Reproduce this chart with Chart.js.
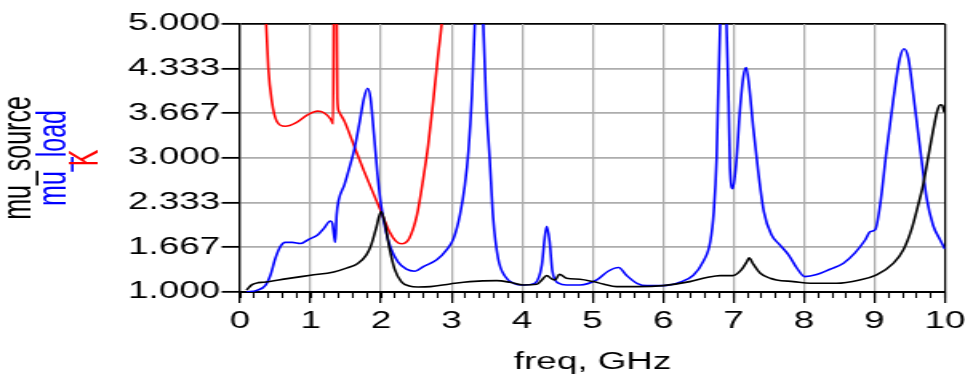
<!DOCTYPE html>
<html><head><meta charset="utf-8">
<script src="https://cdn.jsdelivr.net/npm/chart.js@4/dist/chart.umd.min.js"></script>
<style>html,body{margin:0;padding:0;background:#fff;overflow:hidden}</style>
</head><body>
<canvas id="c" width="603" height="376" style="width:965px;height:376px;display:block"></canvas>
<script>
// ---- data ----
const sourceFreq = [0.09,0.17,0.26,0.33,0.67,1.00,1.33,1.52,1.67,1.79,1.86,1.93,2.00,2.05,2.12,2.19,2.29,2.40,2.52,2.70,2.98,3.26,3.64,3.83,4.02,4.21,4.28,4.35,4.42,4.47,4.53,4.63,4.82,5.01,5.15,5.34,5.63,6.00,6.38,6.62,6.81,6.99,7.11,7.19,7.22,7.28,7.38,7.52,7.61,7.85,8.09,8.46,8.79,9.03,9.27,9.41,9.53,9.62,9.69,9.76,9.83,9.89,9.93,9.96,9.99];
const sourceValue = [1.03,1.11,1.14,1.145,1.20,1.25,1.30,1.36,1.425,1.55,1.70,1.95,2.20,2.05,1.65,1.35,1.15,1.09,1.075,1.08,1.12,1.155,1.17,1.145,1.105,1.115,1.18,1.245,1.195,1.18,1.265,1.205,1.19,1.155,1.12,1.08,1.08,1.095,1.155,1.215,1.245,1.245,1.33,1.455,1.51,1.415,1.28,1.205,1.18,1.155,1.13,1.13,1.18,1.255,1.43,1.63,1.95,2.30,2.60,3.00,3.40,3.70,3.795,3.79,3.68];

const loadFreq = [0.09,0.24,0.36,0.43,0.50,0.57,0.64,0.74,0.86,0.98,1.10,1.19,1.28,1.31,1.35,1.37,1.40,1.48,1.55,1.62,1.69,1.76,1.81,1.85,1.90,1.95,2.00,2.07,2.14,2.24,2.36,2.48,2.60,2.79,2.93,3.03,3.12,3.19,3.24,3.29,3.33,3.39,3.45,3.49,3.54,3.59,3.66,3.76,3.88,4.02,4.18,4.28,4.32,4.35,4.39,4.43,4.52,4.63,4.82,5.06,5.22,5.37,5.48,5.63,5.77,6.00,6.24,6.43,6.57,6.67,6.72,6.76,6.78,6.81,6.855,6.90,6.93,6.95,6.99,7.04,7.09,7.14,7.18,7.22,7.28,7.35,7.43,7.54,7.66,7.78,7.90,8.01,8.18,8.37,8.56,8.72,8.87,8.94,9.01,9.08,9.17,9.27,9.36,9.42,9.48,9.57,9.67,9.74,9.83,9.93,10.0];
const loadValue = [1.00,1.025,1.10,1.25,1.50,1.675,1.74,1.74,1.725,1.79,1.85,1.95,2.06,2.025,1.74,2.15,2.375,2.60,2.85,3.125,3.50,3.90,4.04,3.90,3.35,2.75,2.30,1.90,1.65,1.45,1.34,1.31,1.38,1.48,1.63,1.80,2.15,2.60,3.10,3.94,5.00,7.00,5.00,3.845,3.00,2.10,1.50,1.23,1.13,1.105,1.13,1.40,1.80,1.98,1.76,1.31,1.13,1.105,1.105,1.18,1.31,1.365,1.25,1.13,1.095,1.095,1.145,1.25,1.455,1.75,2.20,3.00,3.845,5.00,7.00,5.00,3.845,2.85,2.54,2.95,3.70,4.22,4.35,4.09,3.45,2.80,2.20,1.85,1.70,1.555,1.355,1.23,1.26,1.34,1.43,1.58,1.78,1.90,1.93,2.30,3.10,3.895,4.49,4.63,4.49,3.79,2.95,2.40,2.00,1.78,1.64];

const kFreq = [0.34,0.37,0.40,0.45,0.52,0.64,0.79,0.95,1.10,1.19,1.29,1.32,1.335,1.365,1.38,1.40,1.48,1.62,1.76,1.90,2.00,2.12,2.21,2.29,2.40,2.51,2.60,2.67,2.74,2.81,2.86,2.92];
const kValue = [6.00,5.00,4.35,3.85,3.55,3.475,3.525,3.64,3.70,3.675,3.575,3.51,6.00,6.00,3.90,3.70,3.55,3.175,2.80,2.45,2.20,1.90,1.76,1.72,1.80,2.15,2.70,3.20,3.845,4.54,5.00,5.80];

const yTicks = [1.000,1.667,2.333,3.000,3.667,4.333,5.000];
const xMajorTicks = [0,1,2,3,4,5,6,7,8,9,10];
const xMinorTicks = [0,0.2,0.4,0.6,0.8,1,1.2,1.4,1.6,1.8,2,2.2,2.4,2.6,2.8,3,3.2,3.4,3.6,3.8,4,4.2,4.4,4.6,4.8,5,5.2,5.4,5.6,5.8,6,6.2,6.4,6.6,6.8,7,7.2,7.4,7.6,7.8,8,8.2,8.4,8.6,8.8,9,9.2,9.4,9.6,9.8,10];
const xTitle = 'freq, GHz';
const yTitles = ['mu_source','mu_load','K'];
const seriesColors = ['#000000','#0000ff','#ff0000'];

// ---- chart ----
const FONT = "'Liberation Sans', Arial, sans-serif";
const GRID = '#adadad';
const pts = (xs, ys) => xs.map((x, i) => ({x: x, y: ys[i]}));
const fixW = w => (s => { s.width = w; s.paddingTop = 0; s.paddingBottom = 0; });
const titleAxis = (text, color, weight, w) => ({
  type: 'linear', position: 'left', weight: weight,
  grid: {display: false}, border: {display: false}, ticks: {display: false},
  title: {display: true, text: text, color: color, padding: 0,
          font: {family: FONT, size: 25, lineHeight: 1}},
  afterFit: fixW(w)
});
const ds = (label, data, color) => ({
  label: label, data: data, borderColor: color, backgroundColor: color,
  borderWidth: 1.6, pointRadius: 0, fill: false, cubicInterpolationMode: 'monotone',
  xAxisID: 'x', yAxisID: 'y'
});

new Chart(document.getElementById('c'), {
  type: 'line',
  data: {
    datasets: [
      ds(yTitles[0], pts(sourceFreq, sourceValue), seriesColors[0]),
      ds(yTitles[1], pts(loadFreq, loadValue), seriesColors[1]),
      ds(yTitles[2], pts(kFreq, kValue), seriesColors[2])
    ]
  },
  options: {
    responsive: false, devicePixelRatio: 1, animation: false, events: [],
    layout: {padding: {left: 0, right: 12.5, top: 24, bottom: 0}},
    plugins: {legend: {display: false}, tooltip: {enabled: false}},
    scales: {
      tSource: titleAxis(yTitles[0], seriesColors[0], 3, 21.5),
      tLoad: titleAxis(yTitles[1], seriesColors[1], 2, 19.8),
      tK: titleAxis(yTitles[2], seriesColors[2], 1, 20.2),
      y: {
        type: 'linear', position: 'left', weight: 0, min: 1, max: 5,
        afterBuildTicks: s => { s.ticks = yTicks.map(v => ({value: v})); },
        afterFit: fixW(88.5),
        ticks: {autoSkip: false, color: '#000', padding: 1,
                font: {family: FONT, size: 23},
                callback: v => Number(v).toFixed(3)},
        grid: {color: c => (c.tick && c.tick.value === 5) ? '#000' : GRID,
               lineWidth: 1.7, tickLength: 11.5, tickColor: '#000', tickWidth: 1.8},
        border: {display: true, color: '#000', width: 1.3}
      },
      xMinor: {
        type: 'linear', position: 'bottom', weight: 0, min: 0, max: 10,
        afterBuildTicks: s => { s.ticks = xMinorTicks.map(v => ({value: v})); },
        afterFit: s => { s.height = 0; s.paddingLeft = 0; s.paddingRight = 0; },
        ticks: {display: false, autoSkip: false},
        grid: {drawOnChartArea: false, drawTicks: true, tickLength: 6, tickColor: '#000', tickWidth: 1.1},
        border: {display: false}
      },
      x: {
        type: 'linear', position: 'bottom', weight: 1, min: 0, max: 10,
        afterBuildTicks: s => { s.ticks = xMajorTicks.map(v => ({value: v})); },
        afterFit: s => { s.height = 84; s.paddingLeft = 0; s.paddingRight = 0; },
        ticks: {autoSkip: false, maxRotation: 0, color: '#000', padding: 5,
                font: {family: FONT, size: 23},
                callback: v => String(v)},
        grid: {color: c => (c.tick && c.tick.value === 10) ? '#000' : GRID,
               lineWidth: 1.25, tickLength: 11, tickColor: '#000', tickWidth: 1.25},
        border: {display: true, color: '#000', width: 2},
        title: {display: true, text: xTitle, color: '#000', padding: {top: 0, bottom: 0},
                font: {family: FONT, size: 23, lineHeight: 1.2}}
      }
    }
  }
});
</script>
</body></html>
